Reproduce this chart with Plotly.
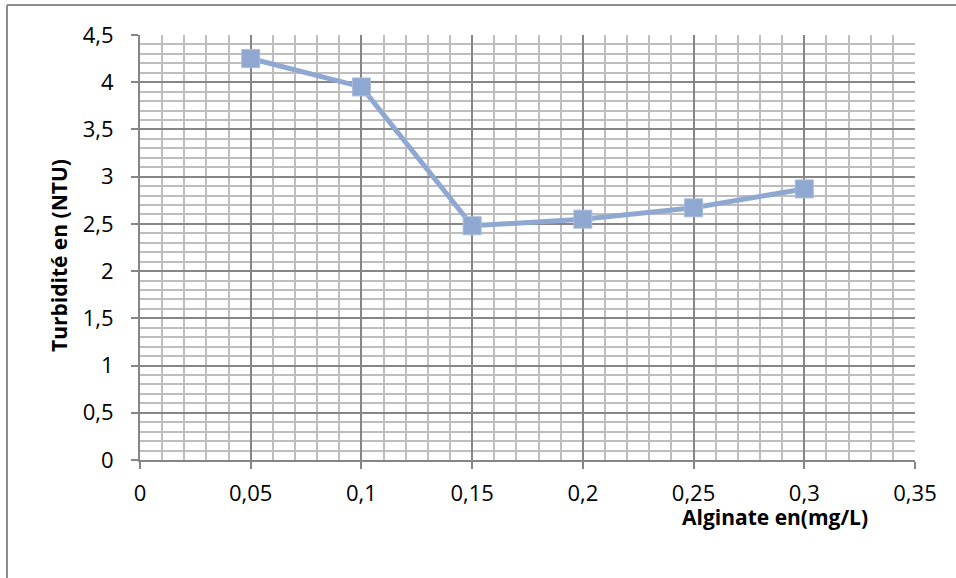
import plotly.graph_objects as go

# Alginate dose (mg/L) vs residual turbidity (NTU)
alginate = [0.05, 0.10, 0.15, 0.20, 0.25, 0.30]
turbidity = [4.25, 3.95, 2.48, 2.55, 2.67, 2.87]

x_ticks = [0, 0.05, 0.1, 0.15, 0.2, 0.25, 0.3, 0.35]
x_tick_text = ["0", "0,05", "0,1", "0,15", "0,2", "0,25", "0,3", "0,35"]
y_ticks = [0, 0.5, 1, 1.5, 2, 2.5, 3, 3.5, 4, 4.5]
y_tick_text = ["0", "0,5", "1", "1,5", "2", "2,5", "3", "3,5", "4", "4,5"]

W, H = 956, 578
ML, MR, MT, MB = 140, 41, 35, 118
PW, PH = W - ML - MR, H - MT - MB

def px_x(p):
    return (p - ML) / PW

def px_y(p):
    return (H - MB - p) / PH

FONT = "Open Sans"
series_color = "#8FA8D1"
major = "#868686"
minor = "#BEBEBE"

fig = go.Figure()
fig.add_trace(go.Scatter(
    x=alginate, y=turbidity, mode="lines+markers",
    line=dict(color=series_color, width=5),
    marker=dict(symbol="square", size=18, color=series_color,
                line=dict(color="#A9BBDA", width=1)),
    showlegend=False, cliponaxis=False,
))

axis_common = dict(
    showline=True, linecolor=major, linewidth=2,
    ticks="outside", ticklen=7, tickcolor=major, tickwidth=2,
    showgrid=True, gridcolor=major, gridwidth=2,
    zeroline=False,
    tickfont=dict(family=FONT, size=22, color="#000000"),
)

fig.update_xaxes(
    range=[0, 0.35], tickvals=x_ticks, ticktext=x_tick_text,
    minor=dict(dtick=0.01, tick0=0, showgrid=True, gridcolor=minor, gridwidth=2, ticks=""),
    ticklabelstandoff=6,
    **axis_common,
)
fig.update_yaxes(
    range=[0, 4.5], tickvals=y_ticks, ticktext=y_tick_text,
    minor=dict(dtick=0.1, tick0=0, showgrid=True, gridcolor=minor, gridwidth=2, ticks=""),
    ticklabelstandoff=13,
    **axis_common,
)

# Axis titles
fig.add_annotation(
    text="<b>Alginate en(mg/L)</b>", xref="paper", yref="paper",
    x=px_x(775), y=px_y(517), showarrow=False,
    font=dict(family=FONT, size=21, color="#000000"),
    xanchor="center", yanchor="middle",
)
fig.add_annotation(
    text="<b>Turbidité en (NTU)</b>", xref="paper", yref="paper",
    x=px_x(59), y=px_y(256), showarrow=False, textangle=-90,
    font=dict(family=FONT, size=21, color="#000000"),
    xanchor="center", yanchor="middle",
)

# Chart frame (left and top edges)
fig.add_shape(type="line", xref="paper", yref="paper",
              x0=px_x(7), x1=px_x(7), y0=px_y(5), y1=px_y(590),
              line=dict(color="#8C8C8C", width=2))
fig.add_shape(type="line", xref="paper", yref="paper",
              x0=px_x(7), x1=px_x(970), y0=px_y(5), y1=px_y(5),
              line=dict(color="#8C8C8C", width=2))

fig.update_layout(
    width=W, height=H,
    margin=dict(l=ML, r=MR, t=MT, b=MB),
    paper_bgcolor="white", plot_bgcolor="white",
    font=dict(family=FONT),
)

fig.write_html("out.html")
